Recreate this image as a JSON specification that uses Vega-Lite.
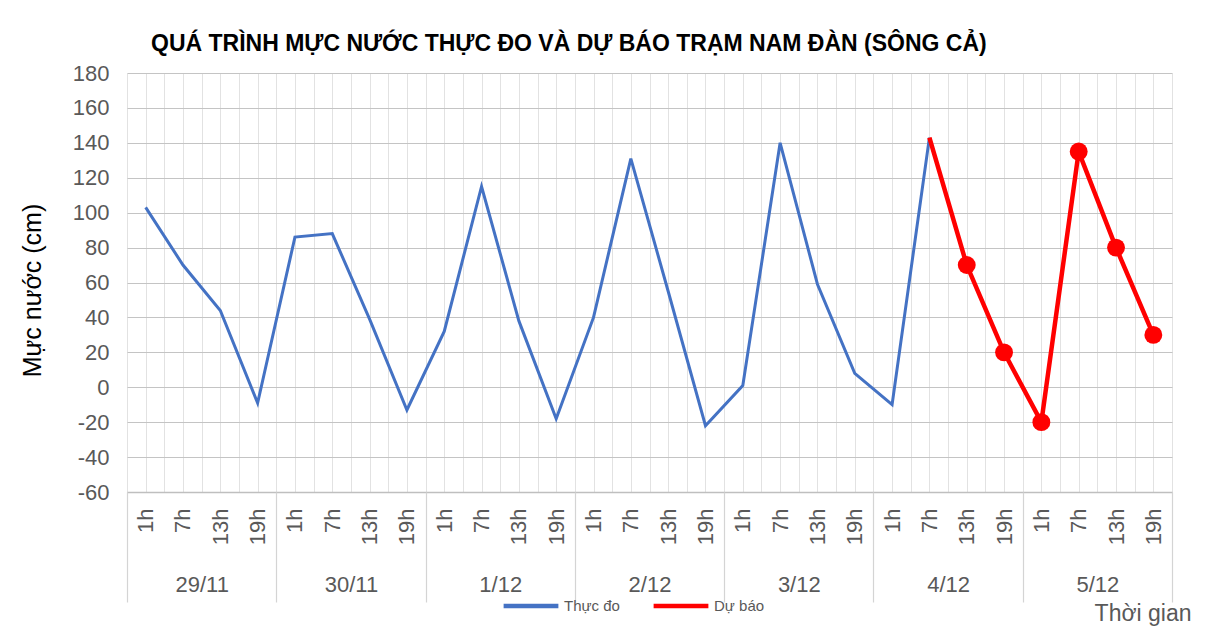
{
  "$schema": "https://vega.github.io/schema/vega-lite/v6.json",
  "width": 1045,
  "height": 419,
  "autosize": {"type": "none"},
  "padding": {"left": 127, "top": 73, "right": 42, "bottom": 138},
  "background": "white",
  "config": {
    "view": {"stroke": null},
    "font": "Liberation Sans"
  },
  "title": {
    "text": "QUÁ TRÌNH MỰC NƯỚC THỰC ĐO VÀ DỰ BÁO TRẠM  NAM ĐÀN (SÔNG CẢ)",
    "anchor": "start",
    "frame": "group",
    "dx": 24,
    "offset": 6,
    "fontSize": 23,
    "font": "Liberation Sans",
    "fontWeight": "bold",
    "color": "#000000"
  },
  "datasets": {
    "obs": [
      {"i": 0, "v": 103, "s": "Thực đo"},
      {"i": 1, "v": 70, "s": "Thực đo"},
      {"i": 2, "v": 44, "s": "Thực đo"},
      {"i": 3, "v": -9, "s": "Thực đo"},
      {"i": 4, "v": 86, "s": "Thực đo"},
      {"i": 5, "v": 88, "s": "Thực đo"},
      {"i": 6, "v": 39, "s": "Thực đo"},
      {"i": 7, "v": -13, "s": "Thực đo"},
      {"i": 8, "v": 32, "s": "Thực đo"},
      {"i": 9, "v": 115, "s": "Thực đo"},
      {"i": 10, "v": 38, "s": "Thực đo"},
      {"i": 11, "v": -18, "s": "Thực đo"},
      {"i": 12, "v": 40, "s": "Thực đo"},
      {"i": 13, "v": 131, "s": "Thực đo"},
      {"i": 14, "v": 55, "s": "Thực đo"},
      {"i": 15, "v": -22, "s": "Thực đo"},
      {"i": 16, "v": 1, "s": "Thực đo"},
      {"i": 17, "v": 140, "s": "Thực đo"},
      {"i": 18, "v": 59, "s": "Thực đo"},
      {"i": 19, "v": 8, "s": "Thực đo"},
      {"i": 20, "v": -10, "s": "Thực đo"},
      {"i": 21, "v": 143, "s": "Thực đo"}
    ],
    "fc": [
      {"i": 21, "v": 143, "s": "Dự báo", "m": 0},
      {"i": 22, "v": 70, "s": "Dự báo", "m": 1},
      {"i": 23, "v": 20, "s": "Dự báo", "m": 1},
      {"i": 24, "v": -20, "s": "Dự báo", "m": 1},
      {"i": 25, "v": 135, "s": "Dự báo", "m": 1},
      {"i": 26, "v": 80, "s": "Dự báo", "m": 1},
      {"i": 27, "v": 30, "s": "Dự báo", "m": 1}
    ]
  },
  "encoding": {
    "y": {
      "field": "v",
      "type": "quantitative",
      "scale": {"domain": [-60, 180], "nice": false, "zero": false},
      "axis": {
        "values": [-60, -40, -20, 0, 20, 40, 60, 80, 100, 120, 140, 160, 180],
        "labelExpr": "datum.value + ''",
        "labelOverlap": false,
        "labelFlush": false,
        "title": "Mực nước (cm)",
        "titleFontSize": 25,
        "titleFontWeight": "normal",
        "titleColor": "#000000",
        "titleAngle": -90,
        "titleAlign": "center",
        "titleBaseline": "middle",
        "titleX": -95,
        "titleY": 217,
        "labelFontSize": 22,
        "labelColor": "#595959",
        "labelPadding": 18,
        "ticks": false,
        "domain": false,
        "grid": true,
        "gridColor": "#c4c4c4",
        "gridWidth": 1.2
      }
    }
  },
  "resolve": {"axis": {"x": "independent"}},
  "layer": [
    {
      "data": {"name": "obs"},
      "mark": {"type": "line", "strokeWidth": 3},
      "encoding": {
        "x": {
          "field": "i",
          "type": "quantitative",
          "scale": {"domain": [-0.5, 27.5], "nice": false, "zero": false},
          "axis": {
            "orient": "bottom",
            "title": null,
            "values": [-0.5, 0, 0.5, 1, 1.5, 2, 2.5, 3, 3.5, 4, 4.5, 5, 5.5, 6, 6.5, 7, 7.5, 8, 8.5, 9, 9.5, 10, 10.5, 11, 11.5, 12, 12.5, 13, 13.5, 14, 14.5, 15, 15.5, 16, 16.5, 17, 17.5, 18, 18.5, 19, 19.5, 20, 20.5, 21, 21.5, 22, 22.5, 23, 23.5, 24, 24.5, 25, 25.5, 26, 26.5, 27, 27.5],
            "labelExpr": "datum.value % 1 == 0 ? ['1h','7h','13h','19h'][datum.value % 4] : ''",
            "labelAngle": -90,
            "labelPadding": 16,
            "labelFontSize": 22,
            "labelColor": "#595959",
            "labelOverlap": false,
            "labelFlush": false,
            "labelBound": false,
            "ticks": false,
            "grid": true,
            "gridColor": "#e2e2e2",
            "gridWidth": 1,
            "domain": true,
            "domainColor": "#bfbfbf",
            "domainWidth": 1.5
          }
        },
        "color": {
          "field": "s",
          "type": "nominal",
          "scale": {"domain": ["Thực đo", "Dự báo"], "range": ["#4472C4", "#FF0000"]},
          "legend": {
            "title": null,
            "orient": "none",
            "direction": "horizontal",
            "legendX": 374,
            "legendY": 503,
            "symbolType": "stroke",
            "symbolSize": 3000,
            "symbolStrokeWidth": 4.5,
            "labelFontSize": 15,
            "labelColor": "#595959",
            "labelOffset": 3,
            "columnPadding": 24
          }
        }
      }
    },
    {
      "data": {"name": "fc"},
      "mark": {"type": "line", "strokeWidth": 4.5},
      "encoding": {
        "x": {
          "field": "i",
          "type": "quantitative",
          "axis": {
            "orient": "bottom",
            "title": null,
            "values": [-0.5, 3.5, 7.5, 11.5, 15.5, 19.5, 23.5, 27.5],
            "labels": false,
            "ticks": true,
            "tickSize": 110,
            "tickColor": "#d4d4d4",
            "tickWidth": 1.2,
            "grid": false,
            "domain": false
          }
        },
        "color": {"field": "s", "type": "nominal"}
      }
    },
    {
      "data": {"name": "fc"},
      "transform": [{"filter": "datum.m == 1"}],
      "mark": {"type": "point", "filled": true, "opacity": 1, "size": 320, "color": "#FF0000"},
      "encoding": {
        "x": {
          "field": "i",
          "type": "quantitative",
          "axis": {
            "orient": "bottom",
            "values": [1.5, 5.5, 9.5, 13.5, 17.5, 21.5, 25.5],
            "labelExpr": "['29/11','30/11','1/12','2/12','3/12','4/12','5/12'][floor(datum.value / 4)]",
            "labelPadding": 82,
            "labelFontSize": 22,
            "labelColor": "#595959",
            "labelOverlap": false,
            "labelFlush": false,
            "ticks": false,
            "grid": false,
            "domain": false,
            "title": "Thời gian",
            "titleFontSize": 23,
            "titleFontWeight": "normal",
            "titleColor": "#595959",
            "titleAlign": "right",
            "titleBaseline": "alphabetic",
            "titleAnchor": null,
            "titleX": 1064,
            "titleY": 128
          }
        }
      }
    }
  ]
}
